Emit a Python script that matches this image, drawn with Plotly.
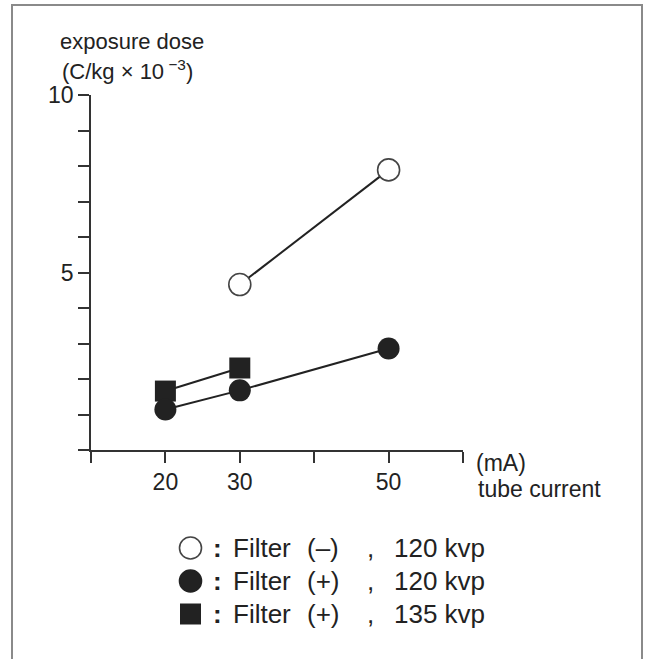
import plotly.graph_objects as go

# ---- data ----
x_open = [30, 50]
y_open = [4.66, 7.89]
x_fill = [20, 30, 50]
y_fill = [1.14, 1.68, 2.86]
x_sq = [20, 30]
y_sq = [1.66, 2.31]

x_tickvals = [20, 30, 50]
x_ticktext = ["20", "30", "50"]
x_minor = [10, 40, 60]
y_tickvals = [5, 10]
y_ticktext = ["5", "10"]

legend_rows = [
    ("open", "(–)", "120 kvp"),
    ("circle", "(+)", "120 kvp"),
    ("square", "(+)", "135 kvp"),
]

W, H = 648, 659
L, T = 91, 95
R = W - 463
B = H - 450
PW, PH = W - L - R, H - T - B


def px(xp):
    return (xp - L) / PW


def py(yp):
    return 1 - (yp - T) / PH


FONT = "Liberation Sans, Arial, sans-serif"
DARK = "#222222"

fig = go.Figure()
fig.add_trace(go.Scatter(x=x_sq, y=y_sq, mode="lines+markers",
                         line=dict(color=DARK, width=2),
                         marker=dict(symbol="square", size=21, color=DARK),
                         cliponaxis=False, showlegend=False))
fig.add_trace(go.Scatter(x=x_fill, y=y_fill, mode="lines+markers",
                         line=dict(color=DARK, width=2),
                         marker=dict(symbol="circle", size=22, color=DARK),
                         cliponaxis=False, showlegend=False))
fig.add_trace(go.Scatter(x=x_open, y=y_open, mode="lines+markers",
                         line=dict(color=DARK, width=2),
                         marker=dict(symbol="circle", size=22, color="white",
                                     line=dict(color="#444444", width=1.6)),
                         cliponaxis=False, showlegend=False))

axis_common = dict(showgrid=False, zeroline=False, showline=True,
                   linecolor="#333333", linewidth=1.5, ticks="outside",
                   ticklen=11, tickwidth=1.5, tickcolor="#333333",
                   tickfont=dict(family=FONT, size=23, color="#222222"))

fig.update_xaxes(range=[10, 60], tickvals=x_tickvals, ticktext=x_ticktext,
                 minor=dict(tickvals=x_minor, ticks="outside", ticklen=11,
                            tickwidth=1.5, tickcolor="#333333", showgrid=False),
                 **axis_common)
fig.update_yaxes(range=[0, 10], tickvals=y_tickvals, ticktext=y_ticktext,
                 minor=dict(tick0=0, dtick=1, ticks="outside", ticklen=11,
                            tickwidth=1.5, tickcolor="#333333", showgrid=False),
                 **axis_common)

ann = []
def text(xp, yp, s, size=23, xanchor="left"):
    ann.append(dict(x=px(xp), y=py(yp), xref="paper", yref="paper", text=s,
                    showarrow=False, xanchor=xanchor, yanchor="middle",
                    font=dict(family=FONT, size=size, color="#222222")))

text(58, 42, "exposure dose", size=22)
text(60, 70, "(C/kg × 10<sup> −3</sup>)", size=22)
text(474, 463, "(mA)")
text(476, 489, "tube current")

shapes = [dict(type="rect", xref="paper", yref="paper",
               x0=px(12), x1=px(642), y0=py(5), y1=py(700),
               line=dict(color="#8a8a8a", width=2), fillcolor="rgba(0,0,0,0)")]

row_y = [548, 581, 614]
for (kind, sign, kv), yy in zip(legend_rows, row_y):
    cx = 190.5
    r = 11
    if kind == "square":
        shapes.append(dict(type="rect", xref="paper", yref="paper",
                           x0=px(cx - 10.5), x1=px(cx + 10.5), y0=py(yy - 10.5), y1=py(yy + 10.5),
                           line=dict(width=0), fillcolor=DARK))
    else:
        shapes.append(dict(type="circle", xref="paper", yref="paper",
                           x0=px(cx - r), x1=px(cx + r), y0=py(yy - r), y1=py(yy + r),
                           line=dict(color="#444444" if kind == "open" else DARK, width=1.6),
                           fillcolor="white" if kind == "open" else DARK))
    text(211, yy, "<b>:</b>", size=26)
    text(231, yy, "Filter", size=26)
    text(305, yy, sign, size=26)
    text(365, yy, ",", size=26)
    text(392, yy, kv, size=26)

fig.update_layout(width=W, height=H, margin=dict(l=L, r=R, t=T, b=B),
                  paper_bgcolor="white", plot_bgcolor="white",
                  annotations=ann, shapes=shapes, showlegend=False)

fig.write_html("out.html", config={"displayModeBar": False},
               post_script="document.body.style.margin='0';"
                           "document.body.style.overflow='hidden';")
